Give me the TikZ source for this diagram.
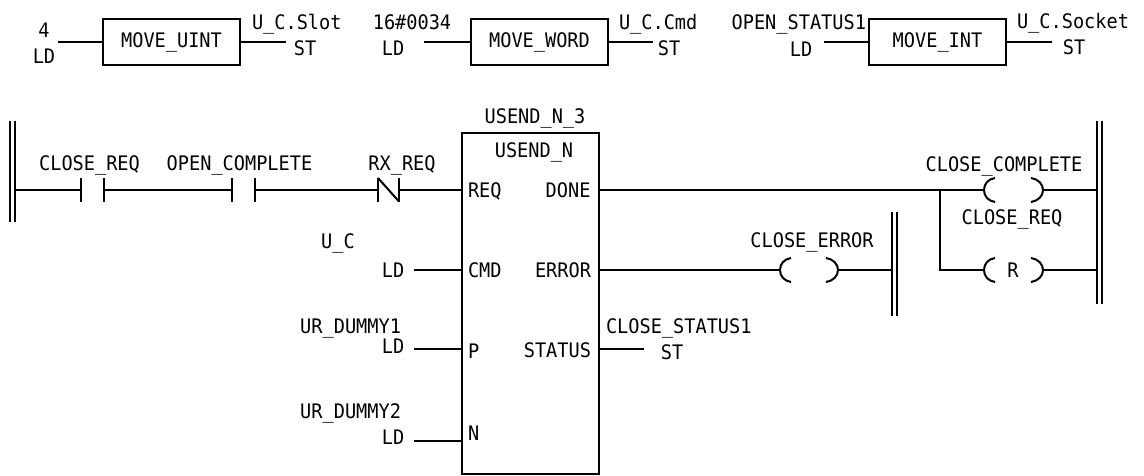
\documentclass[tikz,border=0pt]{standalone}
\usepackage{fontspec}
\setmonofont[FakeStretch=0.93]{DejaVu Sans Mono}
\tikzset{
  lbl/.style={font=\ttfamily\fontsize{15pt}{18pt}\selectfont,inner sep=0pt,outer sep=0pt,anchor=base},
  lbll/.style={lbl,anchor=base west},
  lblr/.style={lbl,anchor=base east},
  wire/.style={line width=1.5pt,line cap=butt},
  rail/.style={line width=1.5pt},
  fbbox/.style={draw,line width=1.5pt,inner sep=0pt,outer sep=0pt,minimum width=102.75pt,minimum height=34.5pt,
    font=\ttfamily\fontsize{15pt}{18pt}\selectfont},
  bigbox/.style={draw,line width=1.5pt,inner sep=0pt,outer sep=0pt,minimum width=102.75pt,minimum height=255.75pt},
}
\begin{document}
\begin{tikzpicture}[x=0.75pt,y=-0.75pt]
\useasboundingbox (0,0) rectangle (1144,475);
% MOVE boxes
\node[fbbox] (m1) at (171.5,42) {MOVE\_UINT};
\node[fbbox] (m2) at (539.5,42) {MOVE\_WORD};
\node[fbbox] (m3) at (937.5,42) {MOVE\_INT};
\coordinate (m1i) at (58,42); \coordinate (m1o) at (286,42);
\coordinate (m2i) at (424,42); \coordinate (m2o) at (653,42);
\coordinate (m3i) at (824,42); \coordinate (m3o) at (1052,42);
\draw[wire] (m1i) -- (m1.west); \draw[wire] (m1.east) -- (m1o);
\draw[wire] (m2i) -- (m2.west); \draw[wire] (m2.east) -- (m2o);
\draw[wire] (m3i) -- (m3.west); \draw[wire] (m3.east) -- (m3o);
\node[lbl] (t4) at (44,37) {4};
\node[lbl] (tld1) at (44,63) {LD};
\node[lbll] (ts1) at (252,29) {U\_C.Slot};
\node[lbl] (tst1) at (305,55) {ST};
\node[lbl] (t16) at (412,29) {16\#0034};
\node[lbl] (tld2) at (393,55) {LD};
\node[lbll] (ts2) at (619,29) {U\_C.Cmd};
\node[lbl] (tst2) at (669,55) {ST};
\node[lblr] (tos) at (866,29) {OPEN\_STATUS1};
\node[lbl] (tld3) at (801,56) {LD};
\node[lbll] (ts3) at (1017,28) {U\_C.Socket};
\node[lbl] (tst3) at (1074,54) {ST};
% rails
\coordinate (la1) at (10,121); \coordinate (la2) at (10,222);
\coordinate (lb1) at (15,121); \coordinate (lb2) at (15,222);
\draw[rail] (la1) -- (la2); \draw[rail] (lb1) -- (lb2);
\coordinate (ra1) at (1097,121); \coordinate (ra2) at (1097,304);
\coordinate (rb1) at (1102,121); \coordinate (rb2) at (1102,304);
\draw[rail] (ra1) -- (ra2); \draw[rail] (rb1) -- (rb2);
\coordinate (ea1) at (892,212); \coordinate (ea2) at (892,316);
\coordinate (eb1) at (897,212); \coordinate (eb2) at (897,316);
\draw[rail] (ea1) -- (ea2); \draw[rail] (eb1) -- (eb2);
% function block
\node[bigbox] (fb) at (530.5,303.5) {};
\node[lbl] (tfbi) at (535,123) {USEND\_N\_3};
\node[lbl] (tfbt) at (534,157) {USEND\_N};
\node[lbll] (pReq) at (468,197) {REQ};
\node[lblr] (pDone) at (590.5,197) {DONE};
\node[lbll] (pCmd) at (468,277) {CMD};
\node[lblr] (pErr) at (591,277) {ERROR};
\node[lbll] (pP) at (468,358) {P};
\node[lblr] (pSt) at (591,357) {STATUS};
\node[lbll] (pN) at (468,440) {N};
% contacts
\coordinate (c1a) at (81,190); \coordinate (c1b) at (104,190);
\coordinate (c2a) at (232,190); \coordinate (c2b) at (255,190);
\coordinate (c3a) at (378,190); \coordinate (c3b) at (399,190);
\coordinate (lw) at (15,190);
\coordinate (fi) at (462,190);
\draw[wire] (lw) -- (c1a);
\draw[wire] (81,178) -- (81,201.5); \draw[wire] (104,178) -- (104,201.5);
\draw[wire] (c1b) -- (c2a);
\draw[wire] (232,178) -- (232,201.5); \draw[wire] (255,178) -- (255,201.5);
\draw[wire] (c2b) -- (c3a);
\draw[wire] (378,178) -- (378,201.5); \draw[wire] (399,178) -- (399,201.5);
\draw[wire] (378,178) -- (399,201.5);
\draw[wire] (c3b) -- (fi);
\node[lbl] (tc1) at (89.5,170) {CLOSE\_REQ};
\node[lbl] (tc2) at (239.5,170) {OPEN\_COMPLETE};
\node[lbl] (tc3) at (402,170) {RX\_REQ};
% DONE branch
\coordinate (fo1) at (599,190);
\coordinate (j) at (940,190);
\coordinate (jd) at (940,270);
\coordinate (k1a) at (984,190); \coordinate (k1b) at (1043,190);
\coordinate (k2a) at (984,270); \coordinate (k2b) at (1043,270);
\coordinate (r1) at (1097,190); \coordinate (r2) at (1097,270);
\draw[wire] (fo1) -- (k1a);
\draw[wire] (j) -- (jd) -- (k2a);
\draw[wire] (k1b) -- (r1);
\draw[wire] (k2b) -- (r2);
\draw[wire] (995,178) .. controls (988,179) and (984,184) .. (984,190) .. controls (984,196) and (988,201) .. (995,202);
\draw[wire] (1031,178) .. controls (1038,179) and (1043,184) .. (1043,190) .. controls (1043,196) and (1038,201) .. (1031,202);
\draw[wire] (995,258) .. controls (988,259) and (984,264) .. (984,270) .. controls (984,276) and (988,281) .. (995,282);
\draw[wire] (1031,258) .. controls (1038,259) and (1043,264) .. (1043,270) .. controls (1043,276) and (1038,281) .. (1031,282);
\node[lbl] (tcc) at (1004,171) {CLOSE\_COMPLETE};
\node[lbl] (tcr) at (1012,224) {CLOSE\_REQ};
\node[lbl] (tr) at (1013,277) {R};
% ERROR branch
\coordinate (fo2) at (599,270);
\coordinate (k3a) at (780,270); \coordinate (k3b) at (838,270);
\coordinate (r3) at (892,270);
\draw[wire] (fo2) -- (k3a);
\draw[wire] (k3b) -- (r3);
\draw[wire] (791,258) .. controls (784,259) and (780,264) .. (780,270) .. controls (780,276) and (784,281) .. (791,282);
\draw[wire] (826,258) .. controls (833,259) and (838,264) .. (838,270) .. controls (838,276) and (833,281) .. (826,282);
\node[lbl] (tce) at (812,247) {CLOSE\_ERROR};
% STATUS output
\coordinate (fo3) at (599,349); \coordinate (so) at (644,349);
\draw[wire] (fo3) -- (so);
\node[lbll] (tcs) at (606,333) {CLOSE\_STATUS1};
\node[lbl] (tst4) at (672,359) {ST};
% inputs
\coordinate (i1) at (414,270); \coordinate (i1e) at (462,270);
\coordinate (i2) at (414,349); \coordinate (i2e) at (462,349);
\coordinate (i3) at (414,441); \coordinate (i3e) at (462,441);
\draw[wire] (i1) -- (i1e); \draw[wire] (i2) -- (i2e); \draw[wire] (i3) -- (i3e);
\node[lbl] (tuc) at (338,248) {U\_C};
\node[lbl] (tl1) at (393,277) {LD};
\node[lblr] (td1) at (401,333) {UR\_DUMMY1};
\node[lbl] (tl2) at (393,353) {LD};
\node[lblr] (td2) at (401,418) {UR\_DUMMY2};
\node[lbl] (tl3) at (393,444) {LD};
\end{tikzpicture}
\end{document}
